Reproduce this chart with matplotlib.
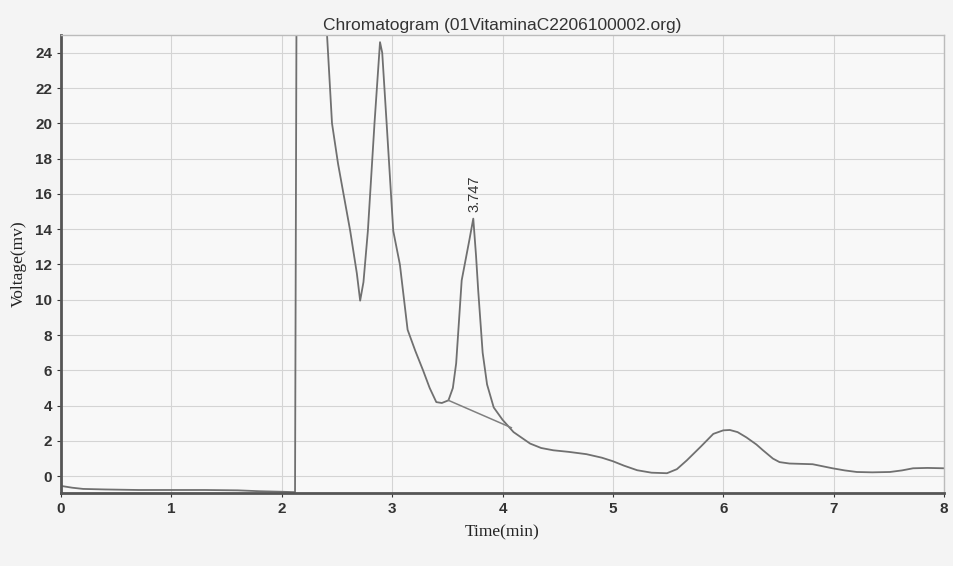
import matplotlib.pyplot as plt
import numpy as np

# chromatogram trace (time in min, voltage in mV)
time_min = [0.0, 0.1, 0.2, 0.4, 0.7, 1.0, 1.3, 1.6, 1.8, 2.0, 2.1, 2.12,
            2.14, 2.2, 2.3, 2.38, 2.41, 2.455, 2.51, 2.62, 2.68, 2.71, 2.74,
            2.78, 2.84, 2.89, 2.91, 2.95, 3.01, 3.07, 3.14, 3.21, 3.28, 3.34,
            3.40, 3.45, 3.51, 3.55, 3.58, 3.63, 3.70, 3.735, 3.76, 3.78, 3.82,
            3.86, 3.92, 4.0, 4.1, 4.25, 4.35, 4.46, 4.6, 4.76, 4.9, 5.0, 5.1,
            5.22, 5.35, 5.49, 5.58, 5.67, 5.8, 5.91, 6.0, 6.06, 6.13, 6.21,
            6.3, 6.36, 6.45, 6.51, 6.6, 6.81, 6.99, 7.1, 7.21, 7.35, 7.51,
            7.62, 7.72, 7.85, 8.0]
voltage_mv = [-0.55, -0.65, -0.72, -0.75, -0.78, -0.78, -0.78, -0.8, -0.85,
              -0.88, -0.9, -0.9,
              40, 60, 60, 40, 25.0, 20.0, 17.7, 13.9, 11.5, 9.95, 11.0,
              13.9, 20.0, 24.6, 24.0, 20.0, 13.9, 12.0, 8.3, 7.1, 6.0, 5.0,
              4.2, 4.15, 4.3, 5.0, 6.4, 11.1, 13.4, 14.6, 12.5, 10.5, 7.0,
              5.2, 3.9, 3.2, 2.5, 1.85, 1.6, 1.47, 1.38, 1.25, 1.05, 0.85, 0.6,
              0.34, 0.2, 0.17, 0.4, 0.9, 1.7, 2.4, 2.6, 2.62, 2.5, 2.2,
              1.8, 1.47, 1.0, 0.8, 0.72, 0.68, 0.45, 0.33, 0.24, 0.22, 0.24,
              0.33, 0.45, 0.47, 0.45]

# baseline drawn under the 3.747 peak
baseline_t = [3.51, 4.08]
baseline_v = [4.3, 2.75]

peak_rt = 3.747
peak_label_v = 15.0

fig = plt.figure(figsize=(9.54, 5.66), dpi=100, facecolor='#f4f4f4')
ax = fig.add_axes([0.064, 0.129, 0.9255, 0.809], facecolor='#f8f8f8')

ax.plot(time_min, voltage_mv, color='#707070', linewidth=1.3)
ax.plot(baseline_t, baseline_v, color='#808080', linewidth=1.1)
ax.text(peak_rt, peak_label_v, '3.747', rotation=90, ha='center', va='bottom',
        fontsize=10.5, fontfamily='Liberation Sans', color='#333333')

ax.set_xlim(0, 8)
ax.set_ylim(-0.95, 25)
ax.set_xticks(np.arange(0, 9, 1))
ax.set_yticks(np.arange(0, 25, 2))
ax.grid(True, color='#d4d4d4', linewidth=0.8, linestyle='-')
ax.set_axisbelow(True)

for side in ['left', 'bottom']:
    ax.spines[side].set_color('#555555')
    ax.spines[side].set_linewidth(2)
for side in ['top', 'right']:
    ax.spines[side].set_color('#bbbbbb')
    ax.spines[side].set_linewidth(1)

ax.tick_params(axis='both', labelsize=11, colors='#333333', length=3)
for lab in ax.get_xticklabels() + ax.get_yticklabels():
    lab.set_fontweight('bold')
    lab.set_fontfamily('Liberation Sans')
    lab.set_color('#333333')

ax.set_title('Chromatogram (01VitaminaC2206100002.org)', fontsize=12.5,
             fontfamily='Liberation Sans', color='#333333', pad=4)
ax.set_xlabel('Time(min)', fontfamily='Liberation Serif', fontsize=12.5,
              color='#222222', labelpad=6)
ax.set_ylabel('Voltage(mv)', fontfamily='Liberation Serif', fontsize=12.5,
              color='#222222', labelpad=6)

fig.savefig('out.png', dpi=100, facecolor=fig.get_facecolor())
